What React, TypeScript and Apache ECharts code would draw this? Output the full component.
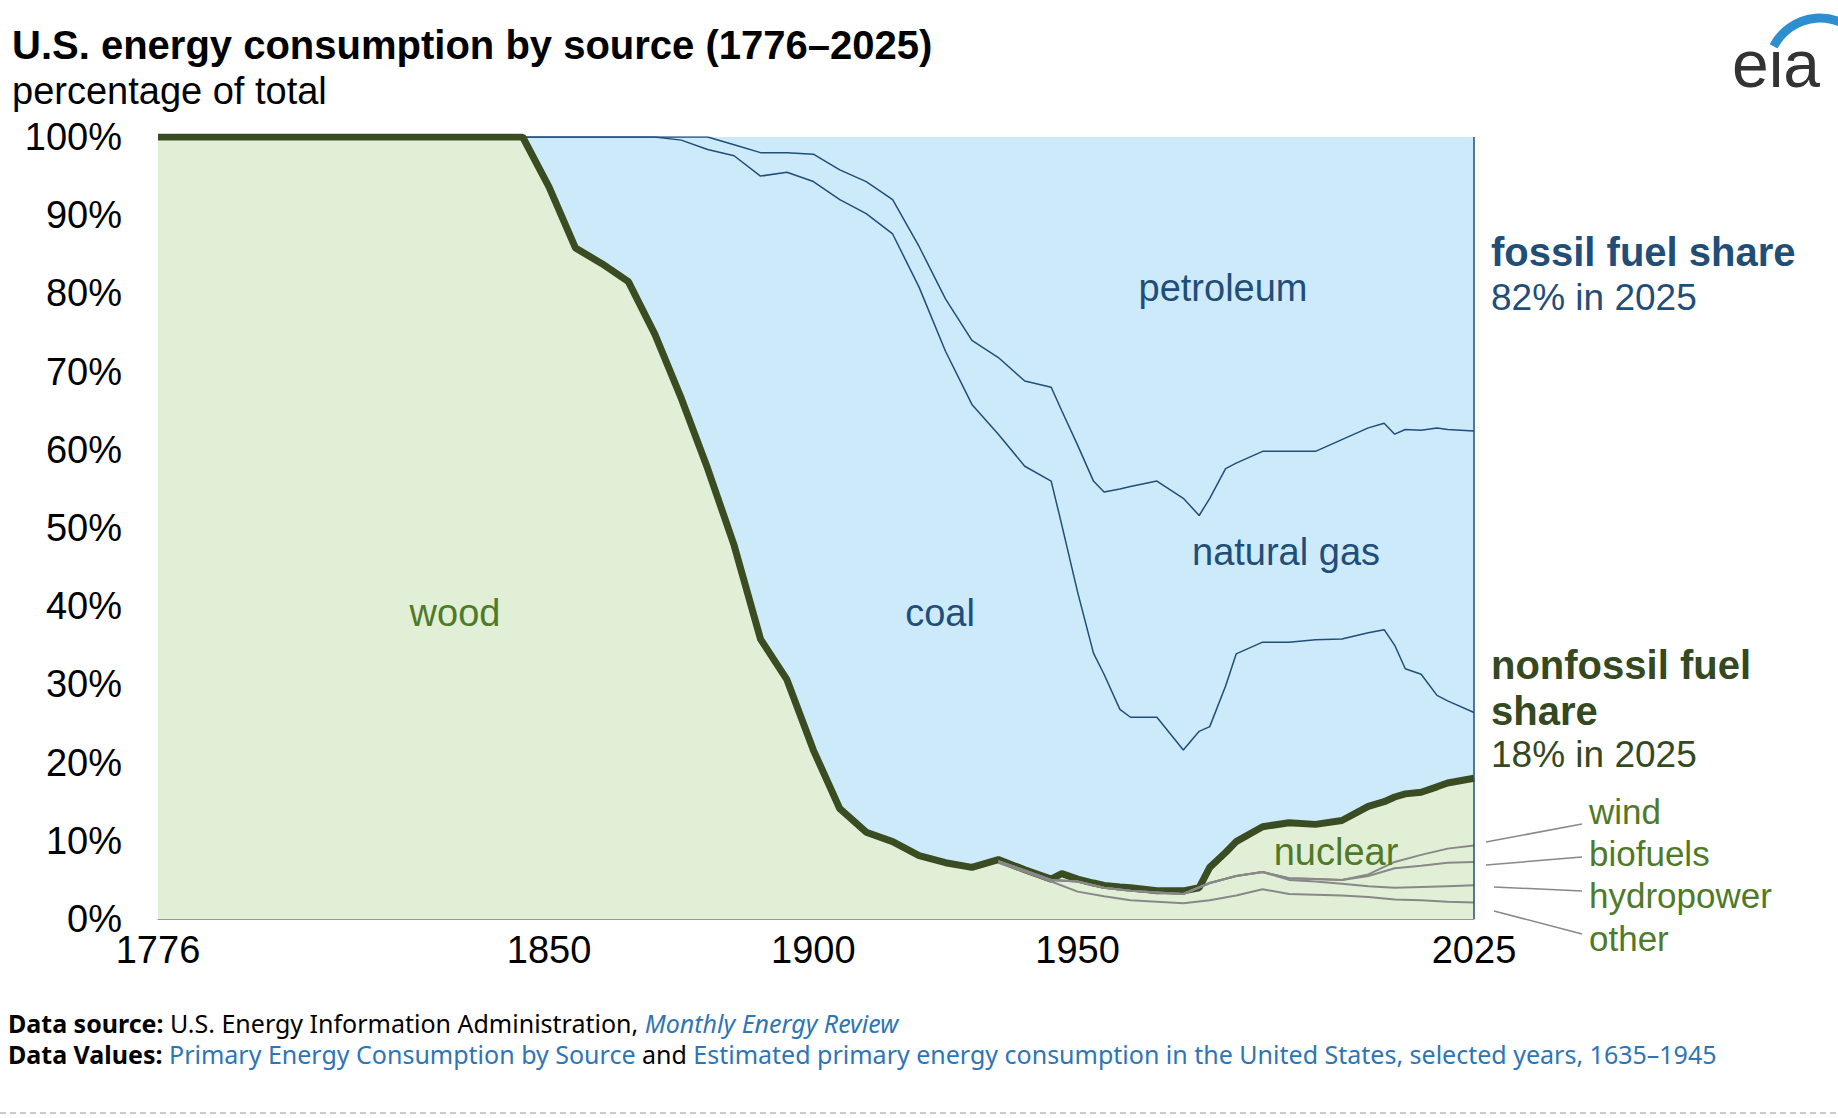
import React, { useEffect, useRef } from "react";
import * as echarts from "echarts";

// cumulative shares (percent)
const years = [1776, 1800, 1825, 1845, 1850, 1855, 1860, 1865, 1870, 1875, 1880, 1885, 1890, 1895, 1900, 1905, 1910, 1915, 1920, 1925, 1930, 1935, 1940, 1945, 1947, 1950, 1953, 1955, 1958, 1960, 1965, 1970, 1973, 1975, 1978, 1980, 1985, 1990, 1995, 2000, 2005, 2008, 2010, 2012, 2015, 2018, 2020, 2025];
const nonfossil = [100, 100, 100, 100, 93.6, 85.8, 83.8, 81.5, 74.8, 66.6, 57.6, 47.8, 35.8, 30.6, 21.6, 14.1, 11.1, 9.9, 8.1, 7.2, 6.6, 7.6, 6.3, 5.1, 5.8, 5.1, 4.6, 4.3, 4.1, 4.0, 3.6, 3.6, 4.0, 6.6, 8.5, 9.9, 11.8, 12.3, 12.1, 12.6, 14.4, 15.0, 15.6, 16.0, 16.2, 16.9, 17.4, 18.0];
const withCoal = [100, 100, 100, 100, 100, 100, 100, 100, 100, 99.6, 98.4, 97.6, 95.0, 95.5, 94.3, 92.0, 90.2, 87.6, 80.8, 72.6, 65.8, 62.0, 57.9, 56.0, 50.4, 41.8, 34.0, 31.3, 26.8, 25.8, 25.8, 21.6, 24.0, 24.6, 29.8, 33.9, 35.4, 35.4, 35.7, 35.8, 36.6, 37.0, 35.0, 32.0, 31.3, 28.6, 27.9, 26.4];
const withGas = [100, 100, 100, 100, 100, 100, 100, 100, 100, 100, 100, 99.0, 98.0, 98.0, 97.8, 95.8, 94.3, 92.0, 86.0, 79.3, 74.0, 71.8, 68.8, 68.0, 65.0, 60.6, 56.0, 54.6, 55.0, 55.3, 56.0, 53.8, 51.6, 53.8, 57.6, 58.3, 59.8, 59.8, 59.8, 61.3, 62.8, 63.4, 62.0, 62.6, 62.5, 62.8, 62.6, 62.4];

const compYears = [1935, 1940, 1945, 1950, 1955, 1960, 1965, 1970, 1975, 1980, 1985, 1990, 1995, 2000, 2005, 2010, 2015, 2020, 2025];
const otherTop = [7.2, 6.0, 4.8, 3.5, 2.9, 2.4, 2.2, 2.0, 2.4, 3.0, 3.8, 3.2, 3.1, 3.0, 2.8, 2.5, 2.4, 2.2, 2.1];
const hydroTop = [7.4, 6.2, 5.0, 4.8, 4.0, 3.6, 3.4, 3.2, 4.6, 5.5, 6.0, 5.0, 4.8, 4.5, 4.2, 4.0, 4.1, 4.2, 4.3];
const biofuelsTop = [7.4, 6.2, 5.0, 4.8, 4.0, 3.6, 3.4, 3.2, 4.6, 5.5, 6.0, 5.2, 5.1, 5.0, 5.5, 6.5, 6.8, 7.2, 7.3];
const windTop = [7.4, 6.2, 5.0, 4.8, 4.0, 3.6, 3.4, 3.2, 4.6, 5.5, 6.0, 5.2, 5.1, 5.0, 5.7, 7.3, 8.2, 9.0, 9.4];

const xLabels = [1776, 1850, 1900, 1950, 2025];

const zip = (xs: number[], ys: number[]) => xs.map((x, i) => [x, ys[i]]);
const FONT = "Liberation Sans, Arial, sans-serif";
const FOOT = "Noto Sans, Open Sans, sans-serif";
const GREEN = "#4f7a28";
const DKGREEN = "#34491f";
const BLUE = "#1f4e79";

const App = () => {
  const ref = useRef<HTMLDivElement>(null);
  useEffect(() => {
    document.body.style.margin = "0";
    const chart = echarts.init(ref.current as HTMLDivElement, null, { renderer: "svg" });
    const thin = (data: number[][], color: string, w = 1.5) => ({
      type: "line", data, showSymbol: false, symbol: "none", lineStyle: { color, width: w }, z: 3,
    });
    const txt = (text: string, x: number, y: number, fill: string, size = 35, weight = "normal", align = "left") => ({
      type: "text", x, y, z: 100, style: { text, fill, font: `${weight} ${size}px ${FONT}`, align, verticalAlign: "middle" },
    });
    const ptr = (x1: number, y1: number, x2: number, y2: number) => ({
      type: "line", z: 100, shape: { x1, y1, x2, y2 }, style: { stroke: "#888", lineWidth: 1.5 },
    });
    chart.setOption({
      animation: false,
      grid: { left: 158, right: 364, top: 137, bottom: 199, show: true, backgroundColor: "#cdeafb", borderWidth: 0 },
      xAxis: {
        type: "value", min: 1776, max: 2025,
        axisLine: { show: true, lineStyle: { color: "#999" } },
        axisTick: { show: false },
        splitLine: { show: false },
        axisLabel: { customValues: xLabels, formatter: (v: number) => String(v), color: "#000", fontSize: 38, fontFamily: FONT, margin: 12 },
      },
      yAxis: {
        type: "value", min: 0, max: 100, interval: 10,
        axisLine: { show: false }, axisTick: { show: false }, splitLine: { show: false },
        axisLabel: { formatter: "{value}%", color: "#000", fontSize: 38, fontFamily: FONT, margin: 36 },
      },
      series: [
        {
          type: "line", data: zip(years, withGas), showSymbol: false, symbol: "none",
          lineStyle: { width: 0 }, areaStyle: { color: "#cdeafb", opacity: 1 }, z: 1,
        },
        thin(zip(years, withGas), BLUE),
        thin(zip(years, withCoal), BLUE),
        {
          type: "line", data: zip(years, nonfossil), showSymbol: false, symbol: "none",
          lineStyle: { color: "#3a4d22", width: 7 }, areaStyle: { color: "#e1efd6", opacity: 1 }, z: 5,
        },
        { ...thin(zip(compYears, otherTop), "#888", 2), z: 6 },
        { ...thin(zip(compYears, hydroTop), "#888", 2), z: 6 },
        { ...thin(zip(compYears, biofuelsTop), "#888", 2), z: 6 },
        { ...thin(zip(compYears, windTop), "#888", 2), z: 6 },
      ],
      graphic: [
        { type: "line", z: 100, shape: { x1: 1474, y1: 137, x2: 1474, y2: 919 }, style: { stroke: BLUE, lineWidth: 1.5 } },
        txt("U.S. energy consumption by source (1776–2025)", 12, 45, "#000", 40, "bold"),
        txt("percentage of total", 12, 91, "#000", 38),
        txt("wood", 455, 613, GREEN, 38, "normal", "center"),
        txt("coal", 940, 613, BLUE, 38, "normal", "center"),
        txt("petroleum", 1223, 288, BLUE, 38, "normal", "center"),
        txt("natural gas", 1286, 552, BLUE, 38, "normal", "center"),
        txt("nuclear", 1336, 852, GREEN, 38, "normal", "center"),
        txt("fossil fuel share", 1491, 252, BLUE, 40, "bold"),
        txt("82% in 2025", 1491, 297, BLUE, 37),
        txt("nonfossil fuel", 1491, 665, DKGREEN, 40, "bold"),
        txt("share", 1491, 711, DKGREEN, 40, "bold"),
        txt("18% in 2025", 1491, 754, DKGREEN, 37),
        txt("wind", 1589, 811, GREEN, 35),
        txt("biofuels", 1589, 853, GREEN, 35),
        txt("hydropower", 1589, 895, GREEN, 35),
        txt("other", 1589, 938, GREEN, 35),
        ptr(1486, 842, 1582, 824),
        ptr(1486, 865, 1582, 857),
        ptr(1494, 887, 1582, 891),
        ptr(1494, 911, 1582, 934),
        {
          type: "text", x: 8, y: 1023, z: 100,
          style: {
            text: "{b|Data source:} U.S. Energy Information Administration, {i|Monthly Energy Review}",
            font: `25px ${FOOT}`, fill: "#000", verticalAlign: "middle",
            rich: { b: { fontWeight: "bold", fontSize: 25, fontFamily: FOOT }, i: { fontStyle: "italic", fill: "#2e75b6", fontSize: 25, fontFamily: FOOT } },
          },
        },
        {
          type: "text", x: 8, y: 1054, z: 100,
          style: {
            text: "{b|Data Values:} {l|Primary Energy Consumption by Source} and {l|Estimated primary energy consumption in the United States, selected years, 1635–1945}",
            font: `25px ${FOOT}`, fill: "#000", verticalAlign: "middle",
            rich: { b: { fontWeight: "bold", fontSize: 25, fontFamily: FOOT }, l: { fill: "#2e75b6", fontSize: 25, fontFamily: FOOT } },
          },
        },
        { type: "line", shape: { x1: 0, y1: 1113, x2: 1838, y2: 1113 }, style: { stroke: "#bbb", lineWidth: 1.5, lineDash: [6, 4] } },
        txt("eia", 1776, 64, "#333", 66, "normal", "center"),
        { type: "arc", z: 100, shape: { cx: 1820, cy: 70, r: 52, startAngle: -Math.PI * 0.85, endAngle: -Math.PI * 0.2 }, style: { stroke: "#2e8fd0", lineWidth: 9, fill: "none" } },
      ],
    });
    return () => chart.dispose();
  }, []);
  return <div ref={ref} style={{ width: 1838, height: 1118 }} />;
};

export default App;
